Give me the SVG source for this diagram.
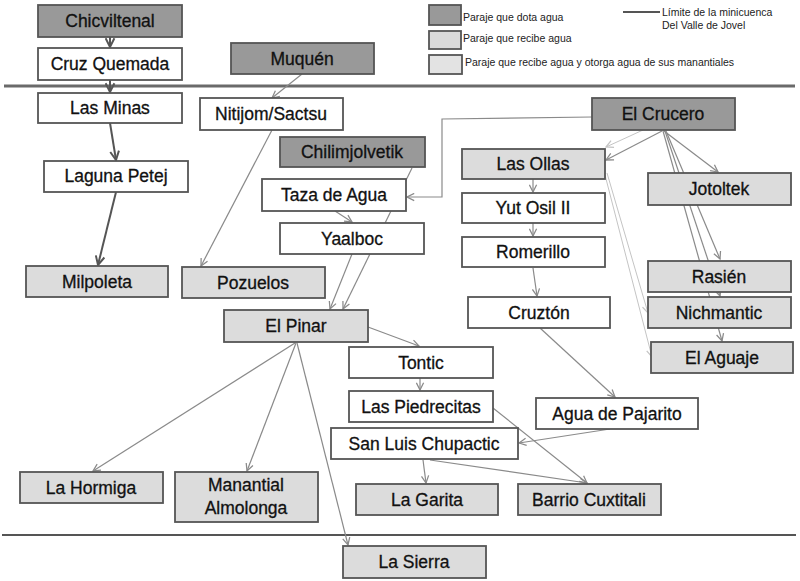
<svg xmlns="http://www.w3.org/2000/svg" width="800" height="581" viewBox="0 0 800 581">
<defs>
<style>
.n rect{stroke:#555;stroke-width:1.8}
.d rect{fill:#999}
.l rect{fill:#dcdcdc}
.w rect{fill:#fff}
.n text{font-family:"Liberation Sans",Arial,sans-serif;font-size:17.5px;fill:#111;stroke:#111;stroke-width:0.3;text-anchor:middle}
.lg{font-family:"Liberation Sans",Arial,sans-serif;font-size:10.5px;fill:#222}
.c{fill:none;stroke:#8a8a8a;stroke-width:1.2}
.cl{fill:none;stroke:#c4c4c4;stroke-width:1}
.ck{fill:none;stroke:#555;stroke-width:2}
</style>
<marker id="a" viewBox="0 0 10 10" refX="9" refY="5" markerWidth="9" markerHeight="9" markerUnits="userSpaceOnUse" orient="auto"><path d="M1,1 L9,5 L1,9" fill="none" stroke="#8a8a8a" stroke-width="1.4"/></marker>
<marker id="al" viewBox="0 0 10 10" refX="9" refY="5" markerWidth="9" markerHeight="9" markerUnits="userSpaceOnUse" orient="auto"><path d="M1,1 L9,5 L1,9" fill="none" stroke="#c4c4c4" stroke-width="1.4"/></marker>
<marker id="ak" viewBox="0 0 10 10" refX="9" refY="5" markerWidth="11" markerHeight="11" markerUnits="userSpaceOnUse" orient="auto"><path d="M1,1 L9,5 L1,9" fill="none" stroke="#555" stroke-width="1.8"/></marker>
</defs>
<rect width="800" height="581" fill="#fff"/>

<g id="boundaries">
<line x1="4" y1="86" x2="795" y2="86" stroke="#6a6a6a" stroke-width="3"/>
<line x1="2" y1="535" x2="796" y2="535" stroke="#555" stroke-width="1.8"/>
</g>

<g id="legend">
<rect x="429" y="5" width="32" height="20" fill="#999" stroke="#555" stroke-width="1.8"/>
<rect x="429" y="31" width="32" height="18" fill="#d9d9d9" stroke="#555" stroke-width="1.8"/>
<rect x="429" y="55" width="33" height="19" fill="#e3e3e3" stroke="#555" stroke-width="1.8"/>
<text class="lg" x="463" y="21">Paraje que dota agua</text>
<text class="lg" x="463" y="42">Paraje que recibe agua</text>
<text class="lg" x="465" y="66">Paraje que recibe agua y otorga agua de sus manantiales</text>
<line x1="623" y1="12" x2="660" y2="12" stroke="#555" stroke-width="2"/>
<text class="lg" x="662" y="16">Límite de la minicuenca</text>
<text class="lg" x="662" y="29">Del Valle de Jovel</text>
</g>

<g id="connectors">
<line class="ck" x1="110" y1="37" x2="110" y2="47" marker-end="url(#ak)"/>
<line class="ck" x1="110" y1="80" x2="110" y2="92" marker-end="url(#ak)"/>
<line class="ck" x1="110" y1="123" x2="116" y2="160" marker-end="url(#ak)"/>
<line class="ck" x1="116" y1="192" x2="98" y2="265" marker-end="url(#ak)"/>
<line class="c" x1="302" y1="74" x2="272" y2="98" marker-end="url(#a)"/>
<line class="c" x1="272" y1="130" x2="201" y2="266" marker-end="url(#a)"/>
<line class="c" x1="335" y1="211" x2="352" y2="222" marker-end="url(#a)"/>
<line class="c" x1="412" y1="168" x2="343" y2="309" marker-end="url(#a)"/>
<line class="c" x1="352" y1="254" x2="330" y2="309" marker-end="url(#a)"/>
<polyline class="c" points="592,117 442,119 442,197 407,197" marker-end="url(#a)"/>
<line class="cl" x1="643" y1="130" x2="606" y2="147" marker-end="url(#al)"/>
<line class="c" x1="662" y1="131" x2="606" y2="160" marker-end="url(#a)"/>
<line class="c" x1="664" y1="131" x2="718" y2="172" marker-end="url(#a)"/>
<line class="c" x1="666" y1="131" x2="720" y2="259" marker-end="url(#a)"/>
<line class="c" x1="665" y1="131" x2="720" y2="296" marker-end="url(#a)"/>
<line class="c" x1="663" y1="131" x2="722" y2="341" marker-end="url(#a)"/>
<line class="cl" x1="607" y1="173" x2="648" y2="313" marker-end="url(#al)"/>
<line class="cl" x1="605" y1="175" x2="652" y2="357" marker-end="url(#al)"/>
<line class="c" x1="533" y1="179" x2="533" y2="192" marker-end="url(#a)"/>
<line class="c" x1="533" y1="223" x2="533" y2="236" marker-end="url(#a)"/>
<line class="c" x1="533" y1="268" x2="537" y2="296" marker-end="url(#a)"/>
<line class="c" x1="540" y1="328" x2="615" y2="397" marker-end="url(#a)"/>
<line class="c" x1="610" y1="429" x2="519" y2="443" marker-end="url(#a)"/>
<line class="c" x1="368" y1="327" x2="419" y2="346" marker-end="url(#a)"/>
<line class="c" x1="420" y1="378" x2="420" y2="390" marker-end="url(#a)"/>
<line class="c" x1="493" y1="408" x2="587" y2="483" marker-end="url(#a)"/>
<line class="c" x1="423" y1="460" x2="426" y2="483" marker-end="url(#a)"/>
<line class="c" x1="430" y1="460" x2="587" y2="483" marker-end="url(#a)"/>
<line class="c" x1="295" y1="343" x2="93" y2="471" marker-end="url(#a)"/>
<line class="c" x1="296" y1="343" x2="247" y2="471" marker-end="url(#a)"/>
<line class="c" x1="297" y1="343" x2="348" y2="545" marker-end="url(#a)"/>
</g>

<g id="chicviltenal" class="n d"><rect x="38" y="5" width="144" height="32"/><text x="110" y="27">Chicviltenal</text></g>
<g id="cruz-quemada" class="n w"><rect x="38" y="48" width="144" height="32"/><text x="110" y="70">Cruz Quemada</text></g>
<g id="muquen" class="n d"><rect x="231" y="43" width="143" height="31"/><text x="302" y="65">Muquén</text></g>
<g id="las-minas" class="n w"><rect x="38" y="93" width="144" height="30"/><text x="110" y="114">Las Minas</text></g>
<g id="nitijom" class="n w"><rect x="200" y="98" width="143" height="32"/><text x="271" y="120">Nitijom/Sactsu</text></g>
<g id="chilimjolvetik" class="n d"><rect x="280" y="137" width="145" height="30"/><text x="352" y="158">Chilimjolvetik</text></g>
<g id="laguna-petej" class="n w"><rect x="44" y="161" width="144" height="31"/><text x="116" y="182">Laguna Petej</text></g>
<g id="taza-de-agua" class="n w"><rect x="262" y="179" width="144" height="32"/><text x="334" y="201">Taza de Agua</text></g>
<g id="yaalboc" class="n w"><rect x="280" y="223" width="144" height="31"/><text x="352" y="245">Yaalboc</text></g>
<g id="milpoleta" class="n l"><rect x="26" y="266" width="142" height="31"/><text x="97" y="288">Milpoleta</text></g>
<g id="pozuelos" class="n l"><rect x="182" y="267" width="143" height="31"/><text x="253" y="289">Pozuelos</text></g>
<g id="el-pinar" class="n l"><rect x="224" y="310" width="144" height="32"/><text x="296" y="332">El Pinar</text></g>
<g id="el-crucero" class="n d"><rect x="592" y="98" width="143" height="32"/><text x="663" y="120">El Crucero</text></g>
<g id="las-ollas" class="n l"><rect x="462" y="149" width="143" height="30"/><text x="533" y="170">Las Ollas</text></g>
<g id="yut-osil" class="n w"><rect x="462" y="193" width="143" height="30"/><text x="533" y="214">Yut Osil II</text></g>
<g id="romerillo" class="n w"><rect x="462" y="237" width="143" height="30"/><text x="533" y="258">Romerillo</text></g>
<g id="cruzton" class="n w"><rect x="468" y="297" width="142" height="31"/><text x="539" y="319">Cruztón</text></g>
<g id="jotoltek" class="n l"><rect x="648" y="173" width="143" height="32"/><text x="719" y="195">Jotoltek</text></g>
<g id="rasien" class="n l"><rect x="648" y="261" width="143" height="31"/><text x="719" y="283">Rasién</text></g>
<g id="nichmantic" class="n l"><rect x="648" y="297" width="143" height="31"/><text x="719" y="319">Nichmantic</text></g>
<g id="el-aguaje" class="n l"><rect x="651" y="342" width="142" height="31"/><text x="722" y="364">El Aguaje</text></g>
<g id="tontic" class="n w"><rect x="349" y="347" width="144" height="31"/><text x="421" y="369">Tontic</text></g>
<g id="las-piedrecitas" class="n w"><rect x="349" y="391" width="144" height="31"/><text x="421" y="413">Las Piedrecitas</text></g>
<g id="agua-de-pajarito" class="n w"><rect x="536" y="398" width="162" height="31"/><text x="617" y="420">Agua de Pajarito</text></g>
<g id="san-luis-chupactic" class="n w"><rect x="331" y="428" width="187" height="31"/><text x="424" y="450">San Luis Chupactic</text></g>
<g id="la-hormiga" class="n l"><rect x="20" y="472" width="143" height="31"/><text x="91" y="494">La Hormiga</text></g>
<g id="manantial-almolonga" class="n l"><rect x="175" y="472" width="143" height="50"/><text x="246" y="491">Manantial</text><text x="246" y="514">Almolonga</text></g>
<g id="la-garita" class="n l"><rect x="356" y="484" width="142" height="31"/><text x="427" y="506">La Garita</text></g>
<g id="barrio-cuxtitali" class="n l"><rect x="518" y="484" width="143" height="31"/><text x="589" y="506">Barrio Cuxtitali</text></g>
<g id="la-sierra" class="n l"><rect x="343" y="546" width="143" height="32"/><text x="414" y="568">La Sierra</text></g>
</svg>
